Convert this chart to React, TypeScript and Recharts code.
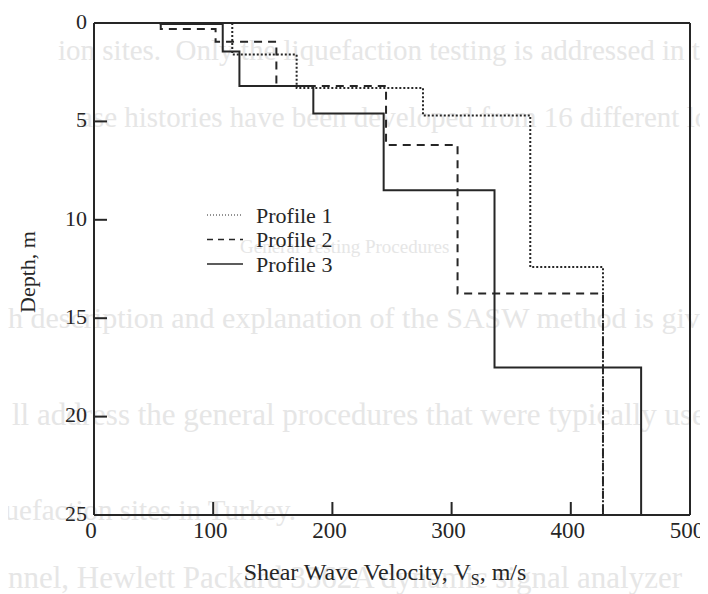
import { ScatterChart, Scatter, XAxis, YAxis, Label } from "recharts"

// axis ticks
const velocityTicks = [0, 100, 200, 300, 400, 500]
const depthTicks = [0, 5, 10, 15, 20, 25]
const innerVelocityTicks = [100, 200, 300, 400]
const innerDepthTicks = [5, 10, 15, 20]

// layer boundaries (m) and shear wave velocity of each layer (m/s)
const profile1Bounds = [0, 1.6, 3.3, 4.7, 12.4, 25]
const profile1Vs = [116, 170, 276, 366, 427]

const profile2Bounds = [0, 0.3, 0.95, 3.2, 6.2, 13.75, 25]
const profile2Vs = [56, 102, 153, 245, 305, 427]

const profile3Bounds = [0, 0.05, 1.45, 3.2, 4.6, 8.5, 17.5, 25]
const profile3Vs = [56, 108, 122, 184, 243, 336, 459]

const legendLabels = ["Profile 1", "Profile 2", "Profile 3"]

// faint page text showing through behind the figure
const pageLines = [
  { top: 50, left: 58, size: 29, text: "ion sites.  Only the liquefaction testing is addressed in this" },
  { top: 117, left: 80, size: 29, text: "ase histories have been developed from 16 different locations" },
  { top: 247, left: 240, size: 19, text: "General Testing Procedures" },
  { top: 318, left: 8, size: 30, text: "h description and explanation of the SASW method is given" },
  { top: 415, left: 12, size: 31, text: "ll address the general procedures that were typically used" },
  { top: 510, left: -26, size: 29, text: "liquefaction sites in Turkey." },
  { top: 578, left: 8, size: 31, text: "nnel, Hewlett Packard 3562A dynamic signal analyzer" },
]

// turn a layered profile into the corner points of its step outline
const toSteps = (bounds: number[], vs: number[]) =>
  vs.flatMap((v, i) => [
    { v, d: bounds[i] },
    { v, d: bounds[i + 1] },
  ])

const profile1 = toSteps(profile1Bounds, profile1Vs)
const profile2 = toSteps(profile2Bounds, profile2Vs)
const profile3 = toSteps(profile3Bounds, profile3Vs)

const INK = "#262626"
const FONT = "'Liberation Serif', 'Times New Roman', serif"
const TICK_LEN = 13

const styles = [
  { strokeDasharray: "2 2" },
  { strokeDasharray: "8 6" },
  {},
]

const BottomTick = ({ x, y, payload }: any) => (
  <g>
    {innerVelocityTicks.includes(payload.value) && (
      <line x1={x} y1={y} x2={x} y2={y - TICK_LEN} stroke={INK} strokeWidth={2} />
    )}
    <text x={x - 3} y={y + 23} textAnchor="middle" fontFamily={FONT} fontSize={23} fill={INK}>
      {payload.value}
    </text>
  </g>
)

const LeftTick = ({ x, y, payload }: any) => (
  <g>
    {innerDepthTicks.includes(payload.value) && (
      <line x1={x} y1={y} x2={x + TICK_LEN} y2={y} stroke={INK} strokeWidth={2} />
    )}
    <text x={x - 7} y={y - 2} dy="0.35em" textAnchor="end" fontFamily={FONT} fontSize={22} fill={INK}>
      {payload.value}
    </text>
  </g>
)

const TopTick = ({ x, y }: any) => (
  <line x1={x} y1={y} x2={x} y2={y + TICK_LEN} stroke={INK} strokeWidth={2} />
)

const RightTick = ({ x, y }: any) => (
  <line x1={x} y1={y} x2={x - TICK_LEN} y2={y} stroke={INK} strokeWidth={2} />
)

const XTitle = ({ viewBox }: any) => (
  <text
    x={viewBox.x + viewBox.width / 2 - 7}
    y={viewBox.y + 65}
    textAnchor="middle"
    fontFamily={FONT}
    fontSize={24}
    fill={INK}
  >
    Shear Wave Velocity, V
    <tspan fontSize={16} dy={5}>S</tspan>
    <tspan dy={-5}>, m/s</tspan>
  </text>
)

const YTitle = ({ viewBox }: any) => {
  const cx = viewBox.x + 1
  const cy = viewBox.y + viewBox.height / 2 + 3
  return (
    <text
      x={cx}
      y={cy}
      transform={`rotate(-90, ${cx}, ${cy})`}
      textAnchor="middle"
      fontFamily={FONT}
      fontSize={22}
      fill={INK}
    >
      Depth, m
    </text>
  )
}

const ProfileLegend = () => (
  <svg width={160} height={80} style={{ position: "absolute", left: 199, top: 195 }}>
    {legendLabels.map((name, i) => (
      <g key={name}>
        <line
          x1={0}
          x2={36}
          y1={12 + i * 24.5}
          y2={12 + i * 24.5}
          stroke={INK}
          strokeWidth={i === 0 ? 1 : 1.6}
          strokeDasharray={i === 0 ? "1 2" : i === 1 ? "6 5" : undefined}
        />
        <text x={49} y={12 + i * 24.5} dy="0.35em" fontFamily={FONT} fontSize={22} fill={INK}>
          {name}
        </text>
      </g>
    ))}
  </svg>
)

export default function App() {
  return (
    <div style={{ position: "relative", width: 700, height: 586 }}>
      <div
        style={{
          position: "absolute",
          left: -8,
          top: -8,
          width: 708,
          height: 594,
          overflow: "hidden",
          fontFamily: FONT,
          color: "#e6e6e6",
        }}
      >
        {pageLines.map((l) => (
          <div
            key={l.top}
            style={{
              position: "absolute",
              left: l.left,
              top: l.top - 16,
              fontSize: l.size,
              lineHeight: "32px",
              whiteSpace: "pre",
            }}
          >
            {l.text}
          </div>
        ))}
      </div>
      <ScatterChart width={700} height={586} margin={{ top: 5, right: 8, bottom: 19, left: 26 }}>
        <XAxis
          xAxisId="bottom"
          type="number"
          dataKey="v"
          domain={[0, 500]}
          ticks={velocityTicks}
          interval={0}
          height={60}
          tickSize={0}
          tickMargin={0}
          tickLine={false}
          tick={BottomTick}
          axisLine={{ stroke: INK, strokeWidth: 2 }}
        >
          <Label content={XTitle} />
        </XAxis>
        <XAxis
          xAxisId="top"
          orientation="top"
          type="number"
          dataKey="v"
          domain={[0, 500]}
          ticks={innerVelocityTicks}
          interval={0}
          height={10}
          tickSize={0}
          tickMargin={0}
          tickLine={false}
          tick={TopTick}
          axisLine={{ stroke: INK, strokeWidth: 2 }}
        />
        <YAxis
          yAxisId="left"
          type="number"
          dataKey="d"
          domain={[0, 25]}
          reversed
          ticks={depthTicks}
          interval={0}
          width={60}
          tickSize={0}
          tickMargin={0}
          tickLine={false}
          tick={LeftTick}
          axisLine={{ stroke: INK, strokeWidth: 2 }}
        >
          <Label content={YTitle} />
        </YAxis>
        <YAxis
          yAxisId="right"
          orientation="right"
          type="number"
          dataKey="d"
          domain={[0, 25]}
          reversed
          ticks={innerDepthTicks}
          interval={0}
          width={10}
          tickSize={0}
          tickMargin={0}
          tickLine={false}
          tick={RightTick}
          axisLine={{ stroke: INK, strokeWidth: 2 }}
        />
        {[profile1, profile2, profile3].map((data, i) => (
          <Scatter
            key={legendLabels[i]}
            name={legendLabels[i]}
            data={data}
            xAxisId="bottom"
            yAxisId="left"
            fill={INK}
            line={{ stroke: INK, strokeWidth: 2, ...styles[i] }}
            shape={() => <g />}
            isAnimationActive={false}
          />
        ))}
      </ScatterChart>
      <ProfileLegend />
    </div>
  )
}
